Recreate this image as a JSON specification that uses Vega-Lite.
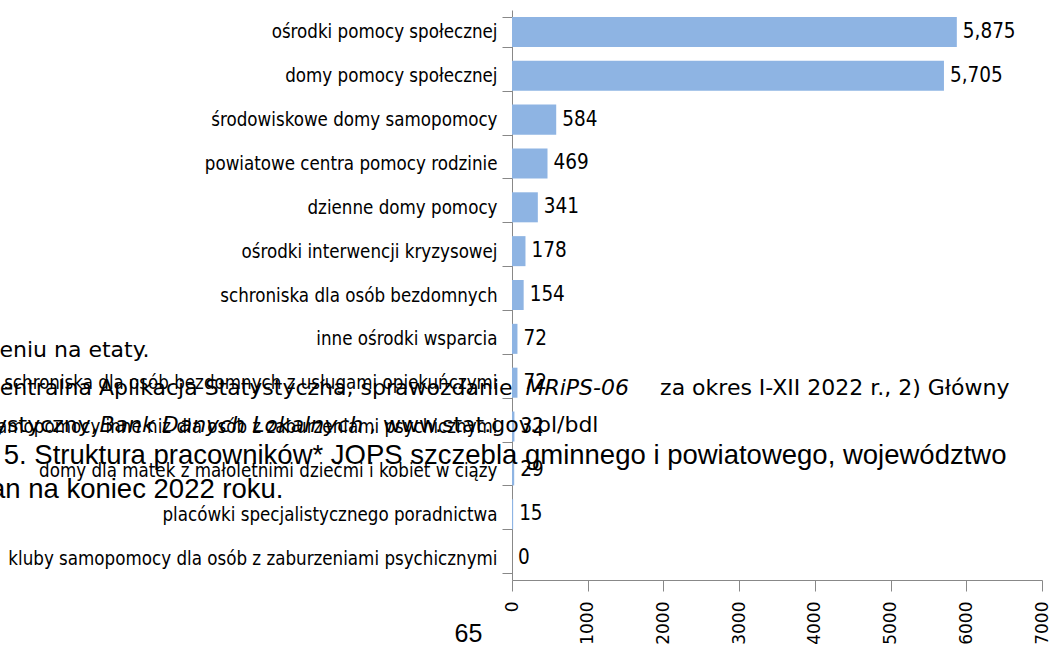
{
  "$schema": "https://vega.github.io/schema/vega-lite/v6.json",
  "width": 530,
  "height": 570,
  "autosize": {"type": "none"},
  "padding": {"left": 512, "top": 10, "right": 7, "bottom": 83},
  "background": "white",
  "config": {"view": {"stroke": null}},
  "datasets": {
    "bars": [
      {"category": "ośrodki pomocy społecznej", "value": 5875},
      {"category": "domy pomocy społecznej", "value": 5705},
      {"category": "środowiskowe domy samopomocy", "value": 584},
      {"category": "powiatowe centra pomocy rodzinie", "value": 469},
      {"category": "dzienne domy pomocy", "value": 341},
      {"category": "ośrodki interwencji kryzysowej", "value": 178},
      {"category": "schroniska dla osób bezdomnych", "value": 154},
      {"category": "inne ośrodki wsparcia", "value": 72},
      {"category": "schroniska dla osób bezdomnych z usługami opiekuńczymi", "value": 72},
      {"category": "kluby samopomocy inne niż dla osób z zaburzeniami psychicznymi", "value": 32},
      {"category": "domy dla matek z małoletnimi dziećmi i kobiet w ciąży", "value": 29},
      {"category": "placówki specjalistycznego poradnictwa", "value": 15},
      {"category": "kluby samopomocy dla osób z zaburzeniami psychicznymi", "value": 0}
    ],
    "footLeft": [
      {"text": "eniu na etaty.", "tx": -6769, "ty": 7.913}
    ],
    "footRight": [
      {"text": "Centralna Aplikacja Statystyczna, sprawozdanie", "tx": 7, "ty": 8.78},
      {"text": "za okres I-XII 2022 r., 2) Główny", "tx": 6571, "ty": 8.78},
      {"text": "Statystyczny,", "tx": -5470, "ty": 9.624},
      {"text": ", www.stat.gov.pl/bdl", "tx": 1142, "ty": 9.624}
    ],
    "footItalic": [
      {"text": "MRiPS-06", "tx": 178, "ty": 8.78},
      {"text": "Bank Danych Lokalnych", "tx": -5448, "ty": 9.624}
    ],
    "caption": [
      {"text": "5. Struktura pracowników* JOPS szczebla gminnego i powiatowego, województwo", "tx": 6531, "ty": 10.354},
      {"text": "stan na koniec 2022 roku.", "tx": -3018, "ty": 11.129}
    ],
    "page": [
      {"text": "65", "tx": -759, "ty": 14.413}
    ]
  },
  "layer": [
    {
      "layer": [
        {
          "data": {"name": "bars"},
          "mark": {"type": "bar", "color": "#8EB4E3"},
          "encoding": {
            "y": {
              "field": "category", "type": "nominal", "sort": null,
              "scale": {"paddingInner": 0.315, "paddingOuter": 0.1575},
              "axis": {
                "title": null, "domainColor": "#888888", "tickColor": "#888888",
                "tickBand": "extent", "tickSize": 10,
                "labelFont": "Liberation Sans Narrow, Arial Narrow, DejaVu Sans Condensed, Noto Sans Condensed, Liberation Sans, sans-serif",
                "labelFontSize": 18.6, "labelColor": "black", "labelPadding": 5, "labelLimit": 1000
              }
            },
            "x": {
              "field": "value", "type": "quantitative",
              "scale": {"domain": [0, 7000], "nice": false, "zero": true},
              "axis": {
                "title": null, "values": [0, 1000, 2000, 3000, 4000, 5000, 6000, 7000],
                "format": "d", "labelAngle": 270, "labelAlign": "right", "labelBaseline": "middle",
                "labelFont": "DejaVu Sans", "labelFontSize": 17, "labelColor": "black",
                "tickSize": 11, "labelPadding": 10, "domainColor": "#888888", "tickColor": "#888888",
                "grid": false, "labelFlush": false, "labelOverlap": false
              }
            }
          }
        },
        {
          "data": {"name": "bars"},
          "mark": {"type": "text", "align": "left", "baseline": "middle", "dx": 6,
            "font": "Liberation Sans Narrow, Arial Narrow, DejaVu Sans Condensed, Noto Sans Condensed, Liberation Sans, sans-serif",
            "fontSize": 20.5, "color": "black"},
          "encoding": {
            "y": {"field": "category", "type": "nominal", "sort": null},
            "x": {"field": "value", "type": "quantitative"},
            "text": {"field": "value", "type": "quantitative", "format": ","}
          }
        }
      ]
    },
    {
      "layer": [
        {
          "data": {"name": "footLeft"},
          "mark": {"type": "text", "align": "left", "baseline": "alphabetic", "font": "DejaVu Sans", "fontSize": 22, "color": "black"},
          "encoding": {
            "x": {"field": "tx", "type": "quantitative"},
            "y": {"field": "ty", "type": "quantitative", "scale": {"domain": [0, 13], "reverse": true, "nice": false, "zero": false}, "axis": null},
            "text": {"field": "text"}
          }
        },
        {
          "data": {"name": "footRight"},
          "mark": {"type": "text", "align": "right", "baseline": "alphabetic", "font": "DejaVu Sans", "fontSize": 22, "color": "black"},
          "encoding": {
            "x": {"field": "tx", "type": "quantitative"},
            "y": {"field": "ty", "type": "quantitative"},
            "text": {"field": "text"}
          }
        },
        {
          "data": {"name": "footItalic"},
          "mark": {"type": "text", "align": "left", "baseline": "alphabetic", "font": "DejaVu Sans", "fontStyle": "italic", "fontSize": 22, "color": "black"},
          "encoding": {
            "x": {"field": "tx", "type": "quantitative"},
            "y": {"field": "ty", "type": "quantitative"},
            "text": {"field": "text"}
          }
        },
        {
          "data": {"name": "caption"},
          "mark": {"type": "text", "align": "right", "baseline": "alphabetic", "font": "Liberation Sans", "fontSize": 27.5, "color": "black"},
          "encoding": {
            "x": {"field": "tx", "type": "quantitative"},
            "y": {"field": "ty", "type": "quantitative"},
            "text": {"field": "text"}
          }
        },
        {
          "data": {"name": "page"},
          "mark": {"type": "text", "align": "left", "baseline": "alphabetic", "font": "Liberation Sans", "fontSize": 25, "color": "black"},
          "encoding": {
            "x": {"field": "tx", "type": "quantitative"},
            "y": {"field": "ty", "type": "quantitative"},
            "text": {"field": "text"}
          }
        }
      ]
    }
  ],
  "resolve": {"scale": {"y": "independent"}}
}
